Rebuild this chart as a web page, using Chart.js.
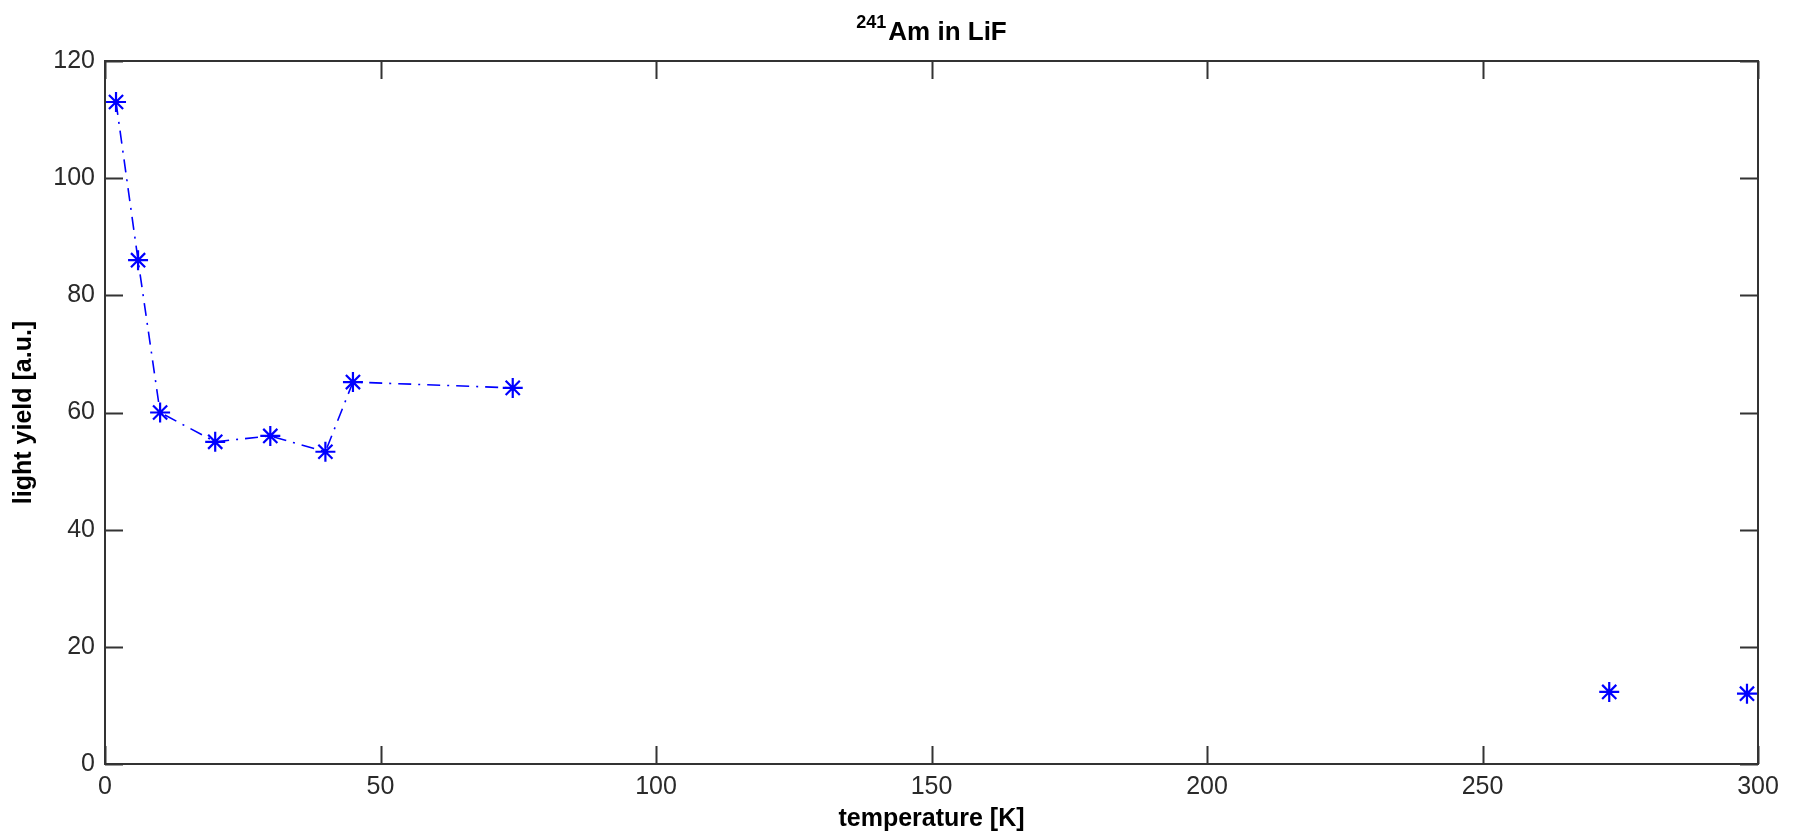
<!DOCTYPE html>
<html>
<head>
<meta charset="utf-8">
<script src="https://cdn.jsdelivr.net/npm/chart.js@4"></script>
<style>
  html, body { margin: 0; padding: 0; background: #fff; }
  #wrap { width: 1795px; height: 838px; position: relative; }
</style>
</head>
<body>
<div id="wrap"><canvas id="chart"></canvas></div>
<script>
// data
const tempLinked = [2, 6, 10, 20, 30, 40, 45, 74];
const yieldLinked = [113, 86, 60, 55, 56, 53.3, 65.2, 64.2];
const tempSingle = [273, 298];
const yieldSingle = [12.3, 12];

const xTicks = [0, 50, 100, 150, 200, 250, 300];
const yTicks = [0, 20, 40, 60, 80, 100, 120];

const titleSup = '241';
const titleMain = 'Am in LiF';
const xTitle = 'temperature [K]';
const yTitle = 'light yield [a.u.]';

const blue = '#0000ff';
const axisColor = '#333333';
const tickFont = { family: '"Liberation Sans", Arial, sans-serif', size: 25 };

const toPoints = (xs, ys) => xs.map((x, i) => ({ x: x, y: ys[i] }));

// matlab style box with inward ticks on all four sides
const boxTicks = {
  id: 'boxTicks',
  beforeDatasetsDraw(chart) {
    const { ctx, chartArea: a, scales } = chart;
    const len = 18;
    ctx.save();
    ctx.strokeStyle = axisColor;
    ctx.lineWidth = 2;
    ctx.strokeRect(a.left, a.top, a.right - a.left, a.bottom - a.top);
    ctx.beginPath();
    scales.x.ticks.forEach(t => {
      const px = Math.round(scales.x.getPixelForValue(t.value)) + 0.5;
      ctx.moveTo(px, a.bottom); ctx.lineTo(px, a.bottom - len);
      ctx.moveTo(px, a.top); ctx.lineTo(px, a.top + len);
    });
    scales.y.ticks.forEach(t => {
      const py = Math.round(scales.y.getPixelForValue(t.value)) + 0.5;
      ctx.moveTo(a.left, py); ctx.lineTo(a.left + len, py);
      ctx.moveTo(a.right, py); ctx.lineTo(a.right - len, py);
    });
    ctx.stroke();
    ctx.restore();
  }
};

// title with superscript mass number
const supTitle = {
  id: 'supTitle',
  afterDraw(chart) {
    const { ctx, chartArea: a } = chart;
    const big = 'bold 26px "Liberation Sans", Arial, sans-serif';
    const small = 'bold 18px "Liberation Sans", Arial, sans-serif';
    ctx.save();
    ctx.font = small;
    const w1 = ctx.measureText(titleSup).width;
    ctx.font = big;
    const w2 = ctx.measureText(titleMain).width;
    const cx = (a.left + a.right) / 2;
    const x = cx - (w1 + 2 + w2) / 2;
    ctx.fillStyle = '#000';
    ctx.textBaseline = 'alphabetic';
    ctx.textAlign = 'left';
    ctx.font = small;
    ctx.fillText(titleSup, x, 28);
    ctx.font = big;
    ctx.fillText(titleMain, x + w1 + 2, 40);
    ctx.restore();
  }
};

new Chart(document.getElementById('chart'), {
  type: 'scatter',
  data: {
    datasets: [{
      label: 'linked',
      data: toPoints(tempLinked, yieldLinked),
      showLine: true,
      borderColor: blue,
      backgroundColor: blue,
      borderWidth: 1.6,
      borderDash: [13, 7, 2, 7],
      pointStyle: 'star',
      pointRadius: 10,
      pointBorderWidth: 2.2,
      pointBorderColor: blue
    }, {
      label: 'single',
      data: toPoints(tempSingle, yieldSingle),
      showLine: false,
      borderColor: blue,
      backgroundColor: blue,
      pointStyle: 'star',
      pointRadius: 10,
      pointBorderWidth: 2.2,
      pointBorderColor: blue
    }]
  },
  options: {
    responsive: true,
    maintainAspectRatio: false,
    animation: false,
    layout: { padding: { left: 0, top: 61, right: 37, bottom: 0 } },
    plugins: {
      legend: { display: false },
      tooltip: { enabled: false }
    },
    scales: {
      x: {
        type: 'linear',
        min: 0,
        max: 300,
        afterBuildTicks: s => { s.ticks = xTicks.map(v => ({ value: v })); },
        afterFit: s => { s.height = 74; },
        grid: { display: false, drawTicks: false },
        border: { display: false },
        ticks: { padding: 8, color: '#2a2a2a', font: tickFont },
        title: {
          display: true,
          text: xTitle,
          color: '#000',
          padding: { top: 0, bottom: 4 },
          font: { family: '"Liberation Sans", Arial, sans-serif', size: 25, weight: 'bold' }
        }
      },
      y: {
        min: 0,
        max: 120,
        afterBuildTicks: s => { s.ticks = yTicks.map(v => ({ value: v })); },
        afterFit: s => { s.width = 105; },
        grid: { display: false, drawTicks: false },
        border: { display: false },
        ticks: { padding: 10, color: '#2a2a2a', font: tickFont },
        title: {
          display: true,
          text: yTitle,
          color: '#000',
          padding: { top: 9, bottom: 0 },
          font: { family: '"Liberation Sans", Arial, sans-serif', size: 25, weight: 'bold' }
        }
      }
    }
  },
  plugins: [boxTicks, supTitle]
});
</script>
</body>
</html>
